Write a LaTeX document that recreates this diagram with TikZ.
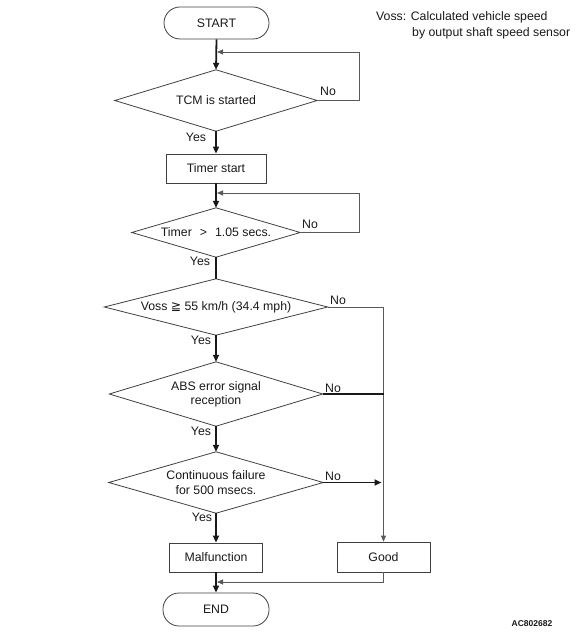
\documentclass[tikz,border=0pt]{standalone}
\usepackage{fontspec}
\setmainfont{Liberation Sans}
\newfontfamily\dejavu{DejaVu Sans}
\usetikzlibrary{arrows.meta}
\begin{document}
\begin{tikzpicture}[x=1pt,y=-1pt,
  every node/.style={font=\fontsize{12.3}{15}\selectfont, text=black!90, inner sep=0pt, align=center},
  term/.style={draw=black!75, line width=0.8pt, rounded corners=16pt},
  box/.style={draw=black!75, line width=0.8pt},
  diaoutline/.style={draw=black!75, line width=0.8pt},
  main/.style={line width=1.8pt, draw=black!90},
  mainarr/.style={main, -{Triangle[length=7pt,width=6pt]}},
  thin/.style={line width=0.8pt, draw=black!65},
  thinarr/.style={thin, -{Triangle[length=6pt,width=5pt]}},
]
\useasboundingbox (0,0) rectangle (576,636);

% nodes
\node[term, minimum width=105pt, minimum height=32pt] (start) at (216.5,23) {START};
\node[minimum width=202pt, minimum height=61pt] (tcm) at (216,100.5) {TCM is started};
\node[box, minimum width=100pt, minimum height=29pt] (tstart) at (216,168.5) {Timer start};
\node[minimum width=168pt, minimum height=49pt] (timer) at (216,232.5) {Timer\hspace{8pt}>\hspace{8pt}1.05 secs.};
\node[minimum width=223pt, minimum height=56pt] (voss) at (216,307) {Voss {\dejavu ≧} 55 km/h (34.4 mph)};
\node[minimum width=213pt, minimum height=64pt] (abs) at (216,394) {ABS error signal\\[-1pt]reception};
\node[minimum width=214pt, minimum height=61pt] (cont) at (216,482.5) {Continuous failure\\for 500 msecs.};
\node[box, minimum width=93pt, minimum height=29pt] (mal) at (216,557.5) {Malfunction};
\node[box, minimum width=93pt, minimum height=30pt] (good) at (383.5,557) {Good};
\node[term, minimum width=106pt, minimum height=33pt] (end) at (216,609.5) {END};

\foreach \d in {tcm,timer,voss,abs,cont}
  \draw[diaoutline] (\d.north) -- (\d.east) -- (\d.south) -- (\d.west) -- cycle;

% legend and code
\node[anchor=west] (leg1) at (376,17) {Voss: Calculated vehicle speed};
\node[anchor=west] (leg2) at (412,33) {by output shaft speed sensor};
\node[font=\fontsize{8.5}{10}\selectfont\bfseries] (code) at (532,624) {AC802682};

% coordinates
\coordinate (fb1) at (217,52);
\coordinate (fb2) at (217,193);
\coordinate (gj) at (217,582);

% main flow
\draw[mainarr] (start.south) -- (tcm.north);
\draw[mainarr] (tcm.south) -- (tstart.north);
\draw[mainarr] (tstart.south) -- (timer.north);
\draw[main] (timer.south) -- (voss.north);
\draw[mainarr] (voss.south) -- (abs.north);
\draw[mainarr] (abs.south) -- (cont.north);
\draw[mainarr] (cont.south) -- (mal.north);
\draw[mainarr] (mal.south) -- (end.north);

% feedback loops
\draw[thinarr] (tcm.east) -- ++(42,0) |- (fb1);
\draw[thinarr] (timer.east) -- ++(59,0) |- (fb2);

% No branches
\draw[thinarr] (voss.east) -| (good.north);
\draw[main] (abs.east) -- (abs.east -| good.north);
\draw[mainarr] (cont.east) -- ([xshift=-2pt]cont.east -| good.north);
\draw[thinarr] (good.south) |- (gj);

% labels
\node (no1) at (328,91) {No};
\node (yes1) at (196,137) {Yes};
\node (no2) at (310,224) {No};
\node (yes2) at (200,261) {Yes};
\node (no3) at (338,300) {No};
\node (yes3) at (201,340) {Yes};
\node (no4) at (333,388) {No};
\node (yes4) at (201,431) {Yes};
\node (no5) at (333,476) {No};
\node (yes5) at (202,517) {Yes};
\end{tikzpicture}
\end{document}
